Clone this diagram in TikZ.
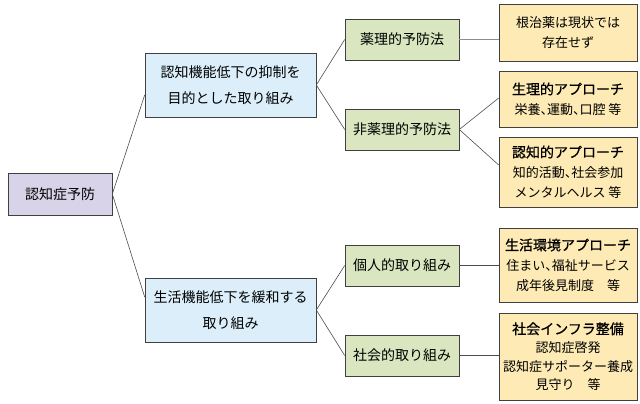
\documentclass[tikz,border=0pt]{standalone}
\usepackage{fontspec}
\setmainfont{Noto Sans CJK JP}[RawFeature=+halt]
\newfontfamily\headfont{Noto Sans CJK JP}[RawFeature=+halt,FakeBold=0.8]
\begin{document}
\begin{tikzpicture}[x=1pt,y=-1pt,
    box/.style={draw=black!75,line width=0.6pt,align=center,inner sep=0pt,
      font=\fontsize{14}{26}\selectfont},
    rootbox/.style={box,fill=rootfill,minimum width=104pt,minimum height=42pt},
    midbox/.style={box,fill=midfill,minimum width=171pt,minimum height=64pt},
    methbox/.style={box,fill=methfill,minimum width=114pt,minimum height=41pt},
    notebox/.style={box,fill=notefill,minimum width=138pt,
      font=\fontsize{13}{20}\selectfont}]
  \definecolor{rootfill}{RGB}{216,211,232}
  \definecolor{midfill}{RGB}{219,238,249}
  \definecolor{methfill}{RGB}{217,230,192}
  \definecolor{notefill}{RGB}{253,234,180}
  \useasboundingbox (0,0) rectangle (640,404);
  \draw
    (60,194) node[rootbox] (0){認知症予防}
    (230.5,85) node[midbox] (1){認知機能低下の抑制を\\目的とした取り組み}
    (230.5,310) node[midbox] (2){生活機能低下を緩和する\\取り組み}
    (402,39.5) node[methbox] (3){薬理的予防法}
    (402,129.5) node[methbox] (4){非薬理的予防法}
    (402,265.5) node[methbox] (5){個人的取り組み}
    (402,355.5) node[methbox] (6){社会的取り組み}
    (568,32.5) node[notebox,minimum height=57pt] (7){根治薬は現状では\\存在せず}
    (568,99) node[notebox,minimum height=56pt] (8){{\headfont\fontsize{14}{20}\selectfont 生理的アプローチ}\\栄養、運動、口腔 等}
    (568,172) node[notebox,minimum height=70pt] (9){{\headfont\fontsize{14}{20}\selectfont 認知的アプローチ}\\知的活動、社会参加\\メンタルヘルス 等}
    (568,265) node[notebox,minimum height=74pt] (10){{\headfont\fontsize{14}{20}\selectfont 生活環境アプローチ}\\住まい、福祉サービス\\成年後見制度　等}
    (568,356.5) node[notebox,minimum height=87pt,font=\fontsize{13}{18.5}\selectfont] (11){{\headfont\fontsize{14}{18.5}\selectfont 社会インフラ整備}\\認知症啓発\\認知症サポーター養成\\見守り　等};
  \begin{scope}[-,draw=black!70,line width=0.6pt]
    \draw (0.east) to ([yshift=-10pt]1.west);
    \draw (0.east) to ([yshift=13pt]2.west);
    \draw (1.east) to (3.west);
    \draw (1.east) to (4.west);
    \draw (2.east) to (5.west);
    \draw (2.east) to (6.west);
    \draw[draw=black!45] (3.east) to (3.east -| 7.west);
    \draw (4.east) to ([yshift=1pt]8.west);
    \draw (4.east) to ([yshift=7pt]9.west);
    \draw (5.east) to (5.east -| 10.west);
    \draw (6.east) to (6.east -| 11.west);
  \end{scope}
\end{tikzpicture}
\end{document}
